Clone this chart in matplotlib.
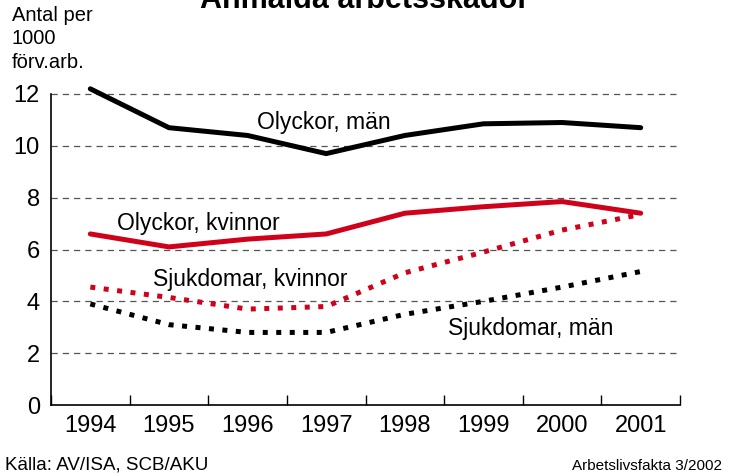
import matplotlib.pyplot as plt
import numpy as np

plt.rcParams['font.family'] = ['Liberation Sans', 'DejaVu Sans']

years = ['1994', '1995', '1996', '1997', '1998', '1999', '2000', '2001']
olyckor_man = [12.2, 10.7, 10.4, 9.7, 10.4, 10.85, 10.9, 10.7]
olyckor_kvinnor = [6.6, 6.1, 6.4, 6.6, 7.4, 7.65, 7.85, 7.4]
sjukdomar_kvinnor = [4.55, 4.15, 3.7, 3.8, 5.1, 5.9, 6.75, 7.35]
sjukdomar_man = [3.9, 3.1, 2.8, 2.8, 3.5, 4.0, 4.55, 5.15]

red = '#d0021b'
x = np.arange(len(years))

fig = plt.figure(figsize=(7.3, 4.76), dpi=100)
ax = fig.add_axes([51 / 730, 1 - 405 / 476, (680 - 51) / 730, (405 - 94) / 476 * 14 / 12])

dot = (0, (1, 1.7))
ax.plot(x, olyckor_man, color='black', linewidth=3.6, solid_capstyle='round')
ax.plot(x, olyckor_kvinnor, color=red, linewidth=3.6, solid_capstyle='round')
ax.plot(x, sjukdomar_kvinnor, color=red, linewidth=3.6, linestyle=dot, dash_capstyle='butt')
ax.plot(x, sjukdomar_man, color='black', linewidth=3.6, linestyle=dot, dash_capstyle='butt')

ax.set_xlim(-0.5, 7.5)
ax.set_ylim(0, 14)
ax.set_yticks([0, 2, 4, 6, 8, 10, 12])
for yv in [2, 4, 6, 8, 10, 12]:
    ax.axhline(yv, color='#555555', linewidth=0.9, linestyle=(0, (5, 4)), zorder=0)

ax.set_xticks(x)
ax.set_xticklabels(years)
ax.set_xticks(np.arange(-0.5, 8, 1), minor=True)
ax.tick_params(axis='x', which='major', length=0, labelsize=17, pad=7)
ax.tick_params(axis='x', which='minor', direction='in', length=7, width=1)
ax.tick_params(axis='y', length=0, labelsize=17, pad=8)
for s in ['top', 'right']:
    ax.spines[s].set_visible(False)
ax.spines['left'].set_bounds(0, 12)
for s in ['left', 'bottom']:
    ax.spines[s].set_linewidth(1.2)

ax.text(2.12, 10.9, 'Olyckor, män', fontsize=16.5, va='center')
ax.text(0.34, 7.0, 'Olyckor, kvinnor', fontsize=16.5, va='center')
ax.text(0.8, 4.85, 'Sjukdomar, kvinnor', fontsize=16.5, va='center')
ax.text(4.55, 2.97, 'Sjukdomar, män', fontsize=16.5, va='center')

fig.text(0.5, 1 - 8 / 476, 'Anmälda arbetsskador', fontsize=22, fontweight='bold',
         ha='center', va='baseline')
fig.text(12 / 730, 1 - 68 / 476, 'Antal per\n1000\nförv.arb.', fontsize=14.5,
         ha='left', va='baseline', linespacing=1.3)
fig.text(5 / 730, 1 - 470 / 476, 'Källa: AV/ISA, SCB/AKU', fontsize=13.5, ha='left', va='baseline')
fig.text(722 / 730, 1 - 470 / 476, 'Arbetslivsfakta 3/2002', fontsize=11, ha='right', va='baseline')

fig.savefig('out.png', dpi=100)
